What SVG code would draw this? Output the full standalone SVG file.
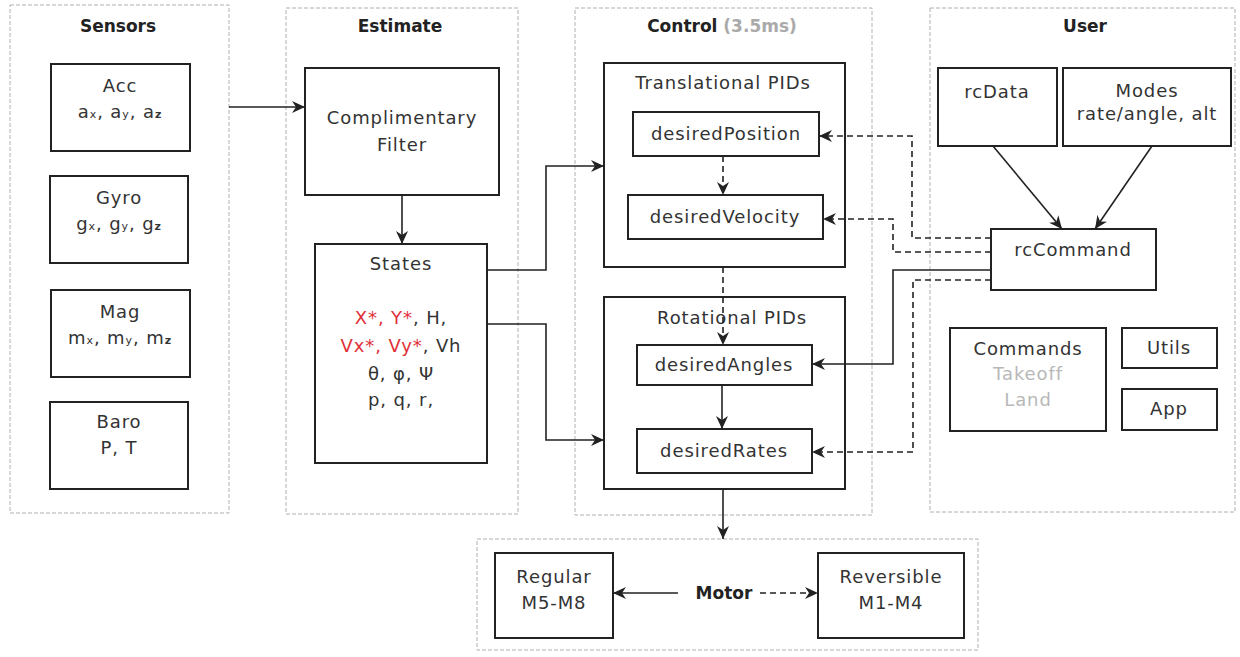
<svg xmlns="http://www.w3.org/2000/svg" width="1240" height="657" viewBox="0 0 1240 657">
<style>
  .panel { fill: none; stroke: #b0b0b0; stroke-width: 1; stroke-dasharray: 4 2; }
  .box { fill: #fff; stroke: #222; stroke-width: 2; }
  .t { font-family: "DejaVu Sans", "Liberation Sans", sans-serif; font-size: 18px; fill: #333; text-anchor: middle; letter-spacing: 0.9px; }
  .title { font-family: "DejaVu Sans", "Liberation Sans", sans-serif; font-size: 17px; font-weight: bold; fill: #222; text-anchor: middle; }
  .sub { font-size: 11px; }
  .red { fill: #e0303a; }
  .gray { fill: #b8b8b8; }
  .c { fill: none; stroke: #222; stroke-width: 1.6; marker-end: url(#arr); }
  .d { stroke-dasharray: 6 4; }
</style>
<defs>
  <marker id="arr" markerUnits="userSpaceOnUse" markerWidth="14" markerHeight="12" refX="13" refY="6" orient="auto">
    <path d="M0,0 L13,6 L0,12 L4,6 Z" fill="#222" stroke="none"/>
  </marker>
</defs>
<rect width="1240" height="657" fill="#fff"/>

<g id="panels">
  <g id="sensors-panel"><rect class="panel" x="10" y="5" width="219" height="508"/><text class="title" x="118" y="32">Sensors</text></g>
  <g id="estimate-panel"><rect class="panel" x="286" y="8" width="232" height="506"/><text class="title" x="400" y="32">Estimate</text></g>
  <g id="control-panel"><rect class="panel" x="575" y="8" width="297" height="507"/><text class="title" x="722" y="32">Control <tspan fill="#aaa">(3.5ms)</tspan></text></g>
  <g id="user-panel"><rect class="panel" x="930" y="8" width="305" height="504"/><text class="title" x="1085" y="32">User</text></g>
  <g id="motor-panel"><rect class="panel" x="477" y="539" width="501" height="111"/></g>
</g>

<g id="acc"><rect class="box" x="51" y="64" width="139" height="87"/>
  <text class="t" x="120" y="92">Acc</text>
  <text class="t" x="120" y="118">a<tspan class="sub">x</tspan>, a<tspan class="sub">y</tspan>, a<tspan class="sub" font-weight="bold">z</tspan></text></g>
<g id="gyro"><rect class="box" x="50" y="176" width="138" height="87"/>
  <text class="t" x="119" y="204">Gyro</text>
  <text class="t" x="119" y="230">g<tspan class="sub">x</tspan>, g<tspan class="sub">y</tspan>, g<tspan class="sub" font-weight="bold">z</tspan></text></g>
<g id="mag"><rect class="box" x="51" y="290" width="139" height="87"/>
  <text class="t" x="120" y="318">Mag</text>
  <text class="t" x="120" y="344">m<tspan class="sub">x</tspan>, m<tspan class="sub">y</tspan>, m<tspan class="sub" font-weight="bold">z</tspan></text></g>
<g id="baro"><rect class="box" x="50" y="402" width="138" height="87"/>
  <text class="t" x="119" y="428">Baro</text>
  <text class="t" x="119" y="454">P, T</text></g>

<g id="filter"><rect class="box" x="305" y="68" width="194" height="127"/>
  <text class="t" x="402" y="124">Complimentary</text>
  <text class="t" x="402" y="151">Filter</text></g>
<g id="states"><rect class="box" x="315" y="244" width="172" height="219"/>
  <text class="t" x="401" y="270">States</text>
  <text class="t" x="401" y="324"><tspan class="red">X*, Y*</tspan>, H,</text>
  <text class="t" x="401" y="352"><tspan class="red">Vx*, Vy*</tspan>, Vh</text>
  <text class="t" x="401" y="380">θ, φ, Ψ</text>
  <text class="t" x="401" y="406">p, q, r,</text></g>

<g id="translational"><rect class="box" x="604" y="63" width="241" height="204"/>
  <text class="t" x="723" y="89">Translational PIDs</text></g>
<g id="desiredPosition"><rect class="box" x="633" y="112" width="186" height="44"/>
  <text class="t" x="726" y="140">desiredPosition</text></g>
<g id="desiredVelocity"><rect class="box" x="628" y="195" width="195" height="44"/>
  <text class="t" x="725" y="223">desiredVelocity</text></g>
<g id="rotational"><rect class="box" x="604" y="297" width="241" height="192"/>
  <text class="t" x="732" y="324">Rotational PIDs</text></g>
<g id="desiredAngles"><rect class="box" x="637" y="345" width="175" height="40"/>
  <text class="t" x="724" y="371">desiredAngles</text></g>
<g id="desiredRates"><rect class="box" x="637" y="429" width="175" height="44"/>
  <text class="t" x="724" y="457">desiredRates</text></g>

<g id="rcData"><rect class="box" x="938" y="68" width="119" height="78"/>
  <text class="t" x="997" y="98">rcData</text></g>
<g id="modes"><rect class="box" x="1063" y="68" width="168" height="78"/>
  <text class="t" x="1147" y="97">Modes</text>
  <text class="t" x="1147" y="120">rate/angle, alt</text></g>
<g id="rcCommand"><rect class="box" x="991" y="229" width="165" height="61"/>
  <text class="t" x="1073" y="256">rcCommand</text></g>
<g id="commands"><rect class="box" x="950" y="328" width="156" height="103"/>
  <text class="t" x="1028" y="355">Commands</text>
  <text class="t gray" x="1028" y="380">Takeoff</text>
  <text class="t gray" x="1028" y="406">Land</text></g>
<g id="utils"><rect class="box" x="1122" y="328" width="95" height="40"/>
  <text class="t" x="1169" y="354">Utils</text></g>
<g id="app"><rect class="box" x="1122" y="389" width="95" height="41"/>
  <text class="t" x="1169" y="415">App</text></g>

<g id="regular"><rect class="box" x="495" y="553" width="118" height="85"/>
  <text class="t" x="554" y="583">Regular</text>
  <text class="t" x="554" y="609">M5-M8</text></g>
<g id="reversible"><rect class="box" x="818" y="553" width="146" height="85"/>
  <text class="t" x="891" y="583">Reversible</text>
  <text class="t" x="891" y="609">M1-M4</text></g>
<g id="motor"><text class="title" x="724" y="599" font-size="16">Motor</text></g>

<g id="connectors">
  <path class="c" d="M229,107 H305"/>
  <path class="c" d="M402,195 V244"/>
  <path class="c" d="M487,270 H546 V166 H604"/>
  <path class="c" d="M487,324 H546 V440 H604"/>
  <path class="c d" d="M723,156 V195"/>
  <path class="c d" d="M723,267 V345"/>
  <path class="c" d="M722,385 V429"/>
  <path class="c" d="M723,489 V539"/>
  <path class="c" d="M993,146 L1062,229"/>
  <path class="c" d="M1152,146 L1095,229"/>
  <path class="c d" d="M991,238 H912 V136 H819"/>
  <path class="c d" d="M991,252 H893 V219 H823"/>
  <path class="c" d="M991,270 H893 V364 H812" stroke="#444"/>
  <path class="c d" d="M991,280 H913 V452 H812"/>
  <path class="c" d="M678,593 H613"/>
  <path class="c d" d="M760,593 H818"/>
</g>
</svg>
